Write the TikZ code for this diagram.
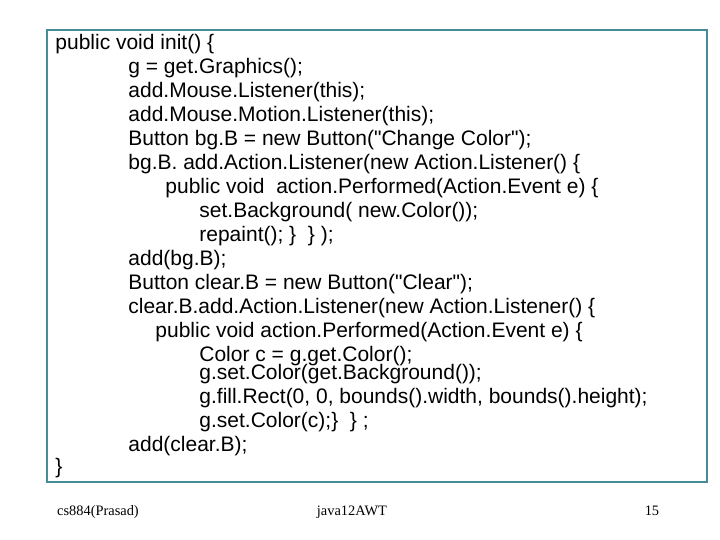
\documentclass[tikz,border=0pt]{standalone}
\usepackage{fontspec}
\setmainfont{Liberation Sans}
\newfontfamily\footfont{Liberation Serif}
\definecolor{framecol}{RGB}{70,140,150}
\newcommand{\dq}{\textquotedbl}
\tikzset{codeline/.style={anchor=base west,inner sep=0pt,font=\fontsize{10.5}{12}\selectfont},
  footline/.style={anchor=base,inner sep=0pt,font=\footfont\fontsize{7.2}{9}\selectfont}}
\begin{document}
\begin{tikzpicture}[x=0.5pt,y=-0.5pt]
	\useasboundingbox[fill=white] (0,0) rectangle (720,540);
	\draw[framecol,semithick] (47,30) rectangle (707,482);
	%code lines
	\node[codeline] (l1) at (55,50) {public void init() \{};
	\node[codeline] (l2) at (128,74) {g = get.Graphics();};
	\node[codeline] (l3) at (128,98) {add.Mouse.Listener(this);};
	\node[codeline] (l4) at (128,122) {add.Mouse.Motion.Listener(this);};
	\node[codeline] (l5) at (128,146) {Button bg.B = new Button(\dq Change Color\dq);};
	\node[codeline] (l6) at (128,170) {bg.B. add.Action.Listener(new Action.Listener() \{};
	\node[codeline] (l7) at (165,194) {public void \ action.Performed(Action.Event e) \{};
	\node[codeline] (l8) at (199,218) {set.Background( new.Color());};
	\node[codeline] (l9) at (199,242) {repaint(); \} \ \} );};
	\node[codeline] (l10) at (128,266) {add(bg.B);};
	\node[codeline] (l11) at (128,290) {Button clear.B = new Button(\dq Clear\dq);};
	\node[codeline] (l12) at (128,314) {clear.B.add.Action.Listener(new Action.Listener() \{};
	\node[codeline] (l13) at (155,338) {public void action.Performed(Action.Event e) \{};
	\node[codeline] (l14) at (199,362) {Color c = g.get.Color();};
	\node[codeline] (l15) at (199,380) {g.set.Color(get.Background());};
	\node[codeline] (l16) at (199,404) {g.fill.Rect(0, 0, bounds().width, bounds().height);};
	\node[codeline] (l17) at (199,428) {g.set.Color(c);\} \ \} ;};
	\node[codeline] (l18) at (128,452) {add(clear.B);};
	\node[codeline] (l19) at (55,474) {\}};
	%footer
	\node[footline] (f1) at (98,516) {cs884(Prasad)};
	\node[footline] (f2) at (352,516) {java12AWT};
	\node[footline] (f3) at (652,516) {15};
\end{tikzpicture}
\end{document}
